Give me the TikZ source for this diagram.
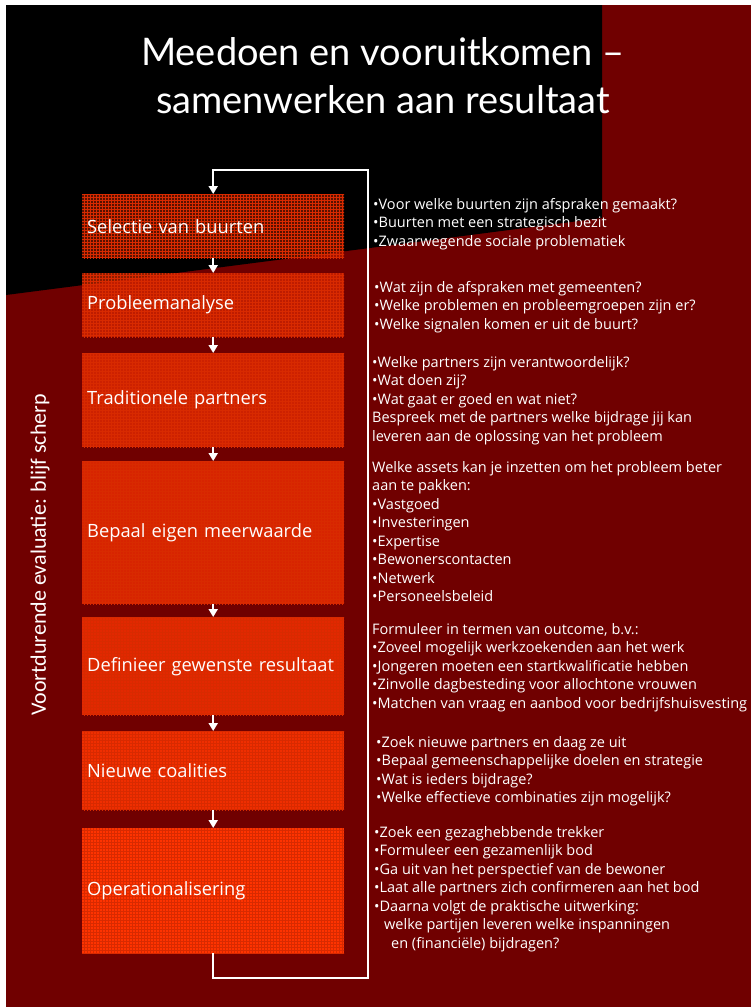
\documentclass[tikz,border=0pt]{standalone}
\usepackage{fontspec}
\setmainfont{Open Sans}
\newfontfamily\titlefont{Lato}
\newfontfamily\sidefont{Carlito}
\usetikzlibrary{arrows.meta,patterns}
\definecolor{slide}{HTML}{700000}
\definecolor{stepred}{HTML}{FF3300}
\definecolor{gridred}{HTML}{D82A00}

\begin{document}
\begin{tikzpicture}[x=1pt,y=-1pt,
  stepbox/.style={rectangle, anchor=north west, inner xsep=5pt, inner ysep=0pt,
    text width=252pt, align=left, minimum width=262pt, fill=stepred,
    text=white, text opacity=1, font=\fontsize{18.3}{22}\selectfont,
    postaction={pattern=grid, pattern color=gridred}},
  flow/.style={draw=white, line width=2pt, line join=miter,
    -{Triangle[width=9pt,length=8pt]}},
  notes/.style={anchor=north west, inner sep=0pt, align=left, text=white,
    font=\fontsize{14.5}{18.5}\selectfont}
]
\useasboundingbox (0,0) rectangle (751,1007);

% slide background
\fill[white] (0,0) rectangle (751,1007);
\fill[slide] (6,5) rectangle (751,1007);
\fill[black] (6,5) -- (602,5) -- (602,218) -- (6,295) -- cycle;

% title
\node[text=white, align=center, font=\titlefont\fontsize{38}{48}\selectfont]
  (title) at (383,76) {Meedoen en vooruitkomen –\\samenwerken aan resultaat};

% process steps
\node[stepbox, fill opacity=0.34, minimum height=64pt]  (b1) at (82,194) {Selectie van buurten};
\node[stepbox, fill opacity=0.55, minimum height=64pt]  (b2) at (82,273) {Probleemanalyse};
\node[stepbox, fill opacity=0.65, minimum height=94pt]  (b3) at (82,353) {Traditionele partners};
\node[stepbox, fill opacity=0.72, minimum height=143pt] (b4) at (82,461) {Bepaal eigen meerwaarde};
\node[stepbox, fill opacity=0.80, minimum height=98pt]  (b5) at (82,617) {Definieer gewenste resultaat};
\node[stepbox, fill opacity=0.90, minimum height=79pt]  (b6) at (82,731) {Nieuwe coalities};
\node[stepbox, fill opacity=1.00, minimum height=125pt] (b7) at (82,828) {Operationalisering};

% arrows between steps
\draw[flow] (b1.south) -- (b2.north);
\draw[flow] (b2.south) -- (b3.north);
\draw[flow] (b3.south) -- (b4.north);
\draw[flow] (b4.south) -- (b5.north);
\draw[flow] (b5.south) -- (b6.north);
\draw[flow] (b6.south) -- (b7.north);

% feedback loop
\coordinate (loopbr) at (368,978);
\coordinate (looptr) at (368,170);
\draw[flow] (b7.south) |- (loopbr) -- (looptr) -| (b1.north);

% side label
\node[text=white, rotate=90, font=\sidefont\fontsize{22}{26}\selectfont]
  (side) at (40,555) {Voortdurende evaluatie: blijf scherp};

% notes per step
\node[notes] (n1) at (373,196) {\strut•Voor welke buurten zijn afspraken gemaakt?\\
•Buurten met een strategisch bezit\\
•Zwaarwegende sociale problematiek};

\node[notes] (n2) at (374,279) {\strut•Wat zijn de afspraken met gemeenten?\\
•Welke problemen en probleemgroepen zijn er?\\
•Welke signalen komen er uit de buurt?};

\node[notes] (n3) at (372,354) {\strut•Welke partners zijn verantwoordelijk?\\
•Wat doen zij?\\
•Wat gaat er goed en wat niet?\\
Bespreek met de partners welke bijdrage jij kan\\
leveren aan de oplossing van het probleem};

\node[notes] (n4) at (372,459) {\strut Welke assets kan je inzetten om het probleem beter\\
aan te pakken:\\
•Vastgoed\\
•Investeringen\\
•Expertise\\
•Bewonerscontacten\\
•Netwerk\\
•Personeelsbeleid};

\node[notes] (n5) at (372,621) {\strut Formuleer in termen van outcome, b.v.:\\
•Zoveel mogelijk werkzoekenden aan het werk\\
•Jongeren moeten een startkwalificatie hebben\\
•Zinvolle dagbesteding voor allochtone vrouwen\\
•Matchen van vraag en aanbod voor bedrijfshuisvesting};

\node[notes] (n6) at (376,734) {\strut•Zoek nieuwe partners en daag ze uit\\
•Bepaal gemeenschappelijke doelen en strategie\\
•Wat is ieders bijdrage?\\
•Welke effectieve combinaties zijn mogelijk?};

\node[notes] (n7) at (374,824) {\strut•Zoek een gezaghebbende trekker\\
•Formuleer een gezamenlijk bod\\
•Ga uit van het perspectief van de bewoner\\
•Laat alle partners zich confirmeren aan het bod\\
•Daarna volgt de praktische uitwerking:\\
\hspace*{10pt}welke partijen leveren welke inspanningen\\
\hspace*{17pt}en (financiële) bijdragen?};
\end{tikzpicture}
\end{document}
